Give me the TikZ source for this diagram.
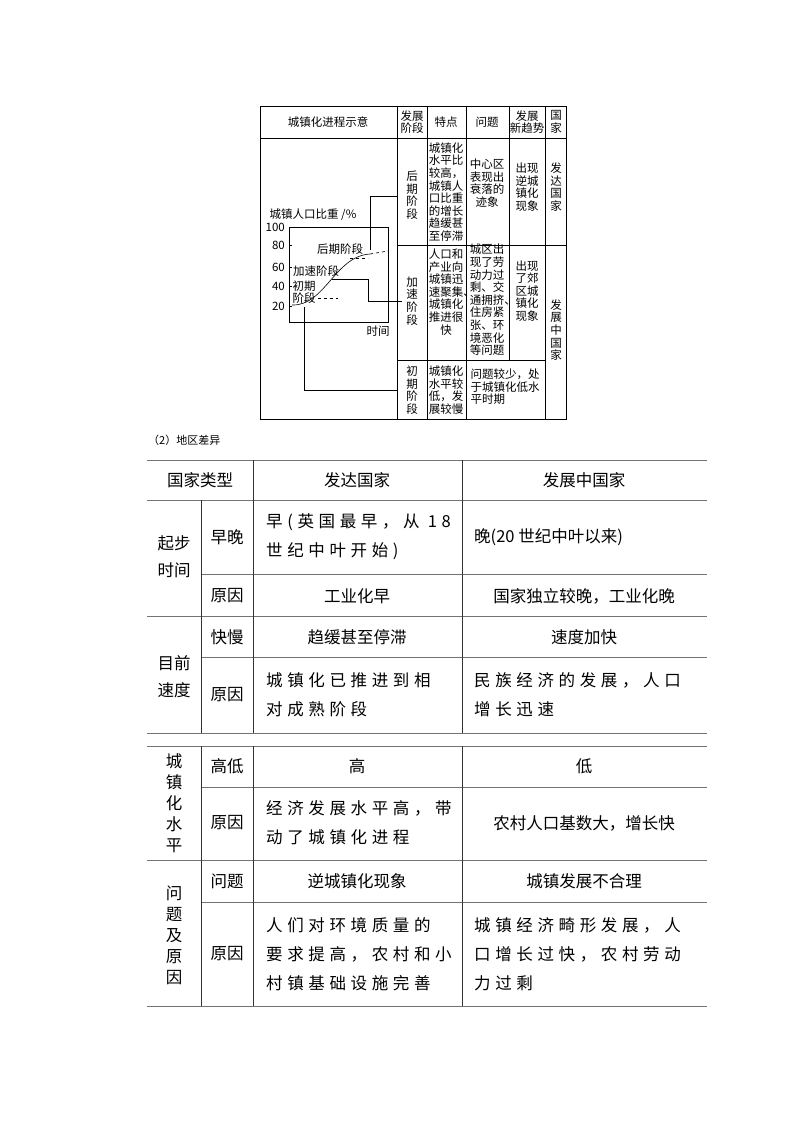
\documentclass[tikz,border=0pt]{standalone}
\usepackage{fontspec}
\setmainfont{Noto Sans CJK SC}
\begin{document}
\begin{tikzpicture}[x=1pt,y=-1pt,
  s/.style={font=\fontsize{11.5}{12.6}\selectfont,align=center,inner sep=0pt},
  t/.style={font=\fontsize{16.5}{27}\selectfont,inner sep=0pt},
  tj/.style={t,font=\fontsize{16.5}{29}\selectfont\addfontfeature{LetterSpace=28}},
  g/.style={draw=black!55,line width=0.8pt},
  gk/.style={draw=black!80,line width=0.6pt},
  ln/.style={draw=black,line width=0.6pt}]
\useasboundingbox (0,0) rectangle (794,1123);
% ---------- top table ----------
\draw[ln] (260,106) rectangle (566,419);
\draw[ln] (260,138)--(566,138);
\draw[ln] (397,106)--(397,419);
\draw[ln] (427,106)--(427,419);
\draw[ln] (466,106)--(466,419);
\draw[ln] (509,106)--(509,360);
\draw[ln] (545,106)--(545,419);
\draw[ln] (397,245)--(566,245);
\draw[ln] (397,360)--(545,360);
\node[s] (h1) at (328,122) {城镇化进程示意};
\node[s] (h2) at (412,122) {发展\\阶段};
\node[s] (h3) at (446,122) {特点};
\node[s] (h4) at (487,122) {问题};
\node[s] (h5) at (527,122) {发展\\新趋势};
\node[s] (h6) at (556,122) {国\\家};
\node[s] (a1) at (412,195) {后\\期\\阶\\段};
\node[s] (a2) at (446,192) {城镇化\\水平比\\较高，\\城镇人\\口比重\\的增长\\趋缓甚\\至停滞};
\node[s] (a3) at (487,183) {中心区\\表现出\\衰落的\\迹象};
\node[s] (a4) at (527,187) {出现\\逆城\\镇化\\现象};
\node[s] (a5) at (556,187) {发\\达\\国\\家};
\node[s] (b1) at (412,301) {加\\速\\阶\\段};
\node[s] (b2) at (446,292) {人口和\\产业向\\城镇迅\\速聚集\rlap{、}\\城镇化\\推进很\\快};
\node[s] (b3) at (487,300) {城区出\\现了劳\\动力过\\剩、交\\通拥挤\rlap{、}\\住房紧\\张、环\\境恶化\\等问题};
\node[s] (b4) at (527,291) {出现\\了郊\\区城\\镇化\\现象};
\node[s] (b5) at (556,330) {发\\展\\中\\国\\家};
\node[s] (c1) at (412,390) {初\\期\\阶\\段};
\node[s] (c2) at (446,390) {城镇化\\水平较\\低，发\\展较慢};
\node[s,align=left] (c3) at (505,387) {问题较少，处\\于城镇化低水\\平时期};
% chart
\node[s] (yl) at (313,215) {城镇人口比重 /\%};
\draw[ln] (289,227)--(289,322)--(388,322)--(388,227)--(289,227);
\foreach \v/\yy in {100/227,80/245,60/267,40/286,20/306}{
  \node[s,anchor=east] (t\v) at (285,\yy) {\v};
  \draw[ln] (289,\yy)--(292,\yy);
}
\node[s] (xl) at (378,331) {时间};
\node[s] (lp3) at (340,249) {后期阶段};
\node[s] (lp2) at (316,271) {加速阶段};
\node[s,align=left] (lp1) at (304,292) {初期\\阶段};
\draw[ln] (292,305) .. controls (325,306) and (335,256) .. (370,254);
\draw[ln,dashed] (370,254)--(388,251);
\draw[ln,dashed] (318,298)--(338,298);
\draw[ln,dashed] (350,258)--(368,258);
\draw[ln] (370,250)--(370,196)--(398,196);
\coordinate (p2) at (332,279);
\draw[ln] (p2)--(368,279)--(368,301)--(402,301);
\coordinate (p1) at (304,307);
\draw[ln] (p1)--(304,390)--(397,390);
% ---------- caption ----------
\node[anchor=west,font=\fontsize{11}{13}\selectfont,inner sep=0pt] (cap) at (148,440) {（2）地区差异};
% ---------- bottom table ----------
\draw[g] (147,460)--(707,460);
\draw[g] (147,500)--(707,500);
\draw[g] (201,574)--(707,574);
\draw[g] (147,616)--(707,616);
\draw[g] (201,657)--(707,657);
\draw[g] (147,733)--(707,733);
\draw[g] (147,746)--(707,746);
\draw[g] (201,787)--(707,787);
\draw[g] (147,860)--(707,860);
\draw[g] (201,902)--(707,902);
\draw[g] (147,1006)--(707,1006);
\foreach \xx in {253,462}{
 \draw[gk] (\xx,460)--(\xx,733);
 \draw[gk] (\xx,746)--(\xx,1006);}
\draw[gk] (201,500)--(201,733);
\draw[gk] (201,746)--(201,1006);
\node[t] (r0) at (200,480) {国家类型};
\node[t] (r0b) at (357,480) {发达国家};
\node[t] (r0c) at (584,480) {发展中国家};
\node[t,align=center] (q1) at (174,557) {起步\\时间};
\node[t] (q2) at (227,537) {早晚};
\node[tj,align=left,anchor=west] (q3) at (266,537) {早(英国最早，从 18\\世纪中叶开始)};
\node[t,anchor=west] (q4) at (474,537) {晚(20 世纪中叶以来)};
\node[t] (q5) at (227,596) {原因};
\node[t] (q6) at (357,596) {工业化早};
\node[t] (q7) at (584,596) {国家独立较晚，工业化晚};
\node[t,align=center] (w1) at (174,677) {目前\\速度};
\node[t] (w2) at (227,637) {快慢};
\node[t] (w3) at (357,637) {趋缓甚至停滞};
\node[t] (w4) at (584,637) {速度加快};
\node[t] (w5) at (227,695) {原因};
\node[tj,align=left,anchor=west] (w6) at (266,695) {城镇化已推进到相\\对成熟阶段};
\node[tj,align=left,anchor=west] (w7) at (474,695) {民族经济的发展，人口\\增长迅速};
\node[t,align=center,font=\fontsize{16.5}{21}\selectfont] (e1) at (174,803) {城\\镇\\化\\水\\平};
\node[t] (e2) at (227,766) {高低};
\node[t] (e3) at (357,766) {高};
\node[t] (e4) at (584,766) {低};
\node[t] (e5) at (227,823) {原因};
\node[tj,align=left,anchor=west] (e6) at (266,823) {经济发展水平高，带\\动了城镇化进程};
\node[t] (e7) at (584,823) {农村人口基数大，增长快};
\node[t,align=center,font=\fontsize{16.5}{21}\selectfont] (f1) at (174,935) {问\\题\\及\\原\\因};
\node[t] (f2) at (227,881) {问题};
\node[t] (f3) at (357,881) {逆城镇化现象};
\node[t] (f4) at (584,881) {城镇发展不合理};
\node[t] (f5) at (227,954) {原因};
\node[tj,align=left,anchor=west] (f6) at (266,954) {人们对环境质量的\\要求提高，农村和小\\村镇基础设施完善};
\node[tj,align=left,anchor=west] (f7) at (474,954) {城镇经济畸形发展，人\\口增长过快，农村劳动\\力过剩};
\end{tikzpicture}
\end{document}
